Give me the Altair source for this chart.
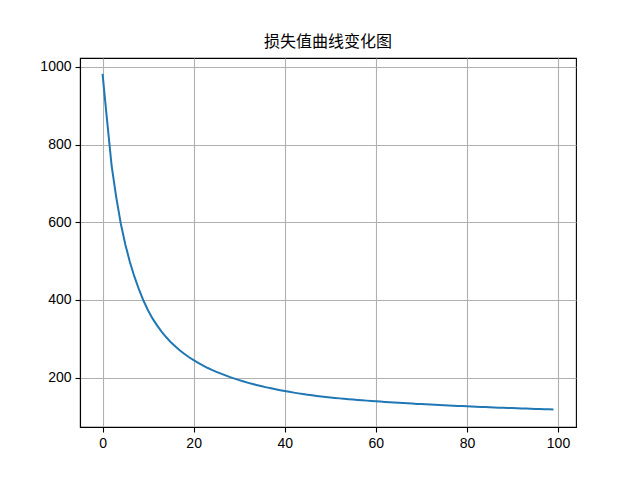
import altair as alt
import pandas as pd

epochs = list(range(100))
loss = [
    982, 862, 745, 665, 597, 543, 498, 460, 427, 398,
    373, 352, 334, 318, 304, 291, 280, 270, 261, 252.5,
    245, 238, 231.5, 225.5, 220, 215, 210.3, 205.8, 201.5, 197.5,
    193.7, 190.1, 186.7, 183.5, 180.5, 177.7, 175.0, 172.5, 170.1, 167.8,
    165.6, 163.5, 161.5, 159.6, 157.8, 156.1, 154.5, 153.0, 151.6, 150.3,
    149.0, 147.8, 146.7, 145.6, 144.6, 143.6, 142.7, 141.8, 140.9, 140.1,
    139.3, 138.4, 137.6, 136.8, 136.0, 135.3, 134.6, 133.9, 133.2, 132.5,
    131.9, 131.3, 130.7, 130.1, 129.5, 128.9, 128.3, 127.8, 127.3, 126.8,
    126.3, 125.7, 125.2, 124.7, 124.2, 123.7, 123.2, 122.8, 122.4, 122.0,
    121.6, 121.2, 120.8, 120.4, 120.0, 119.6, 119.2, 118.8, 118.4, 118.0,
]
x_ticks = [0, 20, 40, 60, 80, 100]
y_ticks = [200, 400, 600, 800, 1000]

df = pd.DataFrame({"epoch": epochs, "loss": loss})

font = "Liberation Sans"

chart = (
    alt.Chart(df)
    .mark_line(color="#1f77b4", strokeWidth=2)
    .encode(
        x=alt.X(
            "epoch:Q",
            scale=alt.Scale(domain=[-4.95, 103.95], nice=False, zero=False),
            axis=alt.Axis(values=x_ticks, title=None, format="d"),
        ),
        y=alt.Y(
            "loss:Q",
            scale=alt.Scale(domain=[73, 1023], nice=False, zero=False),
            axis=alt.Axis(values=y_ticks, title=None, format="d"),
        ),
    )
    .properties(
        width=496,
        height=369,
        autosize=alt.AutoSizeParams(type="none"),
        padding={"left": 72, "top": 50, "right": 56, "bottom": 45},
        title=alt.TitleParams(
            "损失值曲线变化图",
            font="Noto Sans CJK SC",
            fontSize=16,
            fontWeight="normal",
            anchor="middle",
            offset=8,
            color="black",
        ),
    )
    .configure_view(stroke="black", strokeWidth=1.1)
    .configure_axis(
        grid=True,
        gridColor="#b0b0b0",
        gridWidth=1.1,
        domainColor="black",
        domainWidth=1.1,
        tickColor="black",
        tickSize=5,
        tickWidth=1.1,
        labelFont=font,
        labelFontSize=14,
        labelColor="black",
        labelPadding=4,
    )
    .configure_axisX(labelAngle=0)
)

chart.save("out.html", embed_options={"renderer": "svg", "actions": False})
